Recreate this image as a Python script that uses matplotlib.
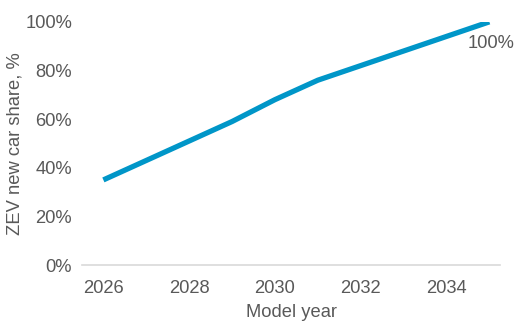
import matplotlib.pyplot as plt
from matplotlib.ticker import FuncFormatter

# Cuota de ZEV en ventas de coches nuevos por año modelo
anios = [2026, 2027, 2028, 2029, 2030, 2031, 2032, 2033, 2034, 2035]
cuota = [35, 43, 51, 59, 68, 76, 82, 88, 94, 100]
ticks_x = [2026, 2028, 2030, 2032, 2034]
ticks_y = [0, 20, 40, 60, 80, 100]

plt.rcParams['font.family'] = ['Liberation Sans', 'DejaVu Sans']
gris = '#595959'

fig = plt.figure(figsize=(5.32, 3.26), dpi=100)
ax = fig.add_axes([0.154, 0.187, 0.786, 0.746])

ax.plot(anios, cuota, color='#0096C8', linewidth=3.8, solid_capstyle='butt')
ax.annotate(f'{cuota[-1]}%', xy=(anios[-1], cuota[-1]), xytext=(25, -22),
            textcoords='offset pixels', ha='right', va='center',
            fontsize=13.2, color=gris)

ax.set_xlim(2025.5, 2035.25)
ax.set_ylim(0, 100)
ax.set_xticks(ticks_x)
ax.set_yticks(ticks_y)
ax.yaxis.set_major_formatter(FuncFormatter(lambda v, p: f'{v:.0f}%'))
ax.tick_params(length=0, labelsize=13.2, labelcolor=gris, pad=7)
ax.tick_params(axis='x', pad=11)

for lado in ['top', 'right', 'left']:
    ax.spines[lado].set_visible(False)
ax.spines['bottom'].set_color('#D9D9D9')
ax.spines['bottom'].set_linewidth(1.2)

ax.set_xlabel('Model year', fontsize=13.2, color=gris)
ax.set_ylabel('ZEV new car share, %', fontsize=13.2, color=gris)
ax.xaxis.set_label_coords(0.5, -0.16)
ax.yaxis.set_label_coords(-0.14, 0.5)

fig.savefig('out.png', dpi=100)
